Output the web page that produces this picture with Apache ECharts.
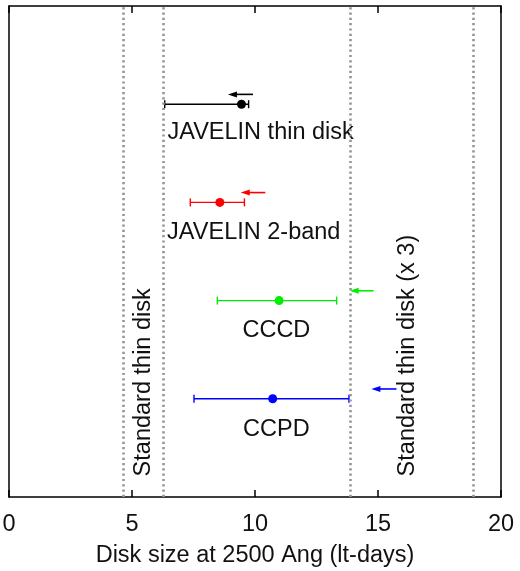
<!DOCTYPE html>
<html>
<head>
<meta charset="utf-8">
<script src="https://cdn.jsdelivr.net/npm/echarts@6/dist/echarts.min.js"></script>
<style>
  html, body { margin: 0; padding: 0; background: #fff; }
  #chart { width: 520px; height: 571px; }
</style>
</head>
<body>
<div id="chart"></div>
<script>
// --- data ---
const methods = ['JAVELIN thin disk', 'JAVELIN 2-band', 'CCCD', 'CCPD'];
const methodColors = ['#000000', '#ff0000', '#00ee00', '#0000ff'];
const rowY = [4, 3, 2, 1];
const sizeBest = [9.45, 8.57, 10.98, 10.72];
const sizeLow = [6.33, 7.37, 8.47, 7.52];
const sizeHigh = [9.74, 9.57, 13.32, 13.82];
const arrowFrom = [9.92, 10.42, 14.82, 15.75];
const arrowTo = [8.90, 9.42, 13.85, 14.73];
const labelX = [10.23, 9.95, 10.87, 10.87];
const labelY = [3.71, 2.69, 1.70, 0.69];
const thinDiskLines = [4.63, 6.29, 13.89, 18.87];
const thinDiskTexts = ['Standard thin disk', 'Standard thin disk (x 3)'];
const thinDiskTextX = [5.45, 16.22];
const thinDiskTextY = 0.21;

const FONT = 'Liberation Sans, Arial, sans-serif';
const FS = 23.5;

document.addEventListener('DOMContentLoaded', function () {
    const chart = echarts.init(document.getElementById('chart'));

    // error bars: [y, lo, hi, idx]
    const errData = rowY.map((y, i) => [y, sizeLow[i], sizeHigh[i], i]);
    const arrowData = rowY.map((y, i) => [y + 0.1, arrowFrom[i], arrowTo[i], i]);
    const pointData = rowY.map((y, i) => ({
        value: [sizeBest[i], y],
        itemStyle: { color: methodColors[i], opacity: 1 }
    }));
    const labelData = methods.map((m, i) => [labelX[i], labelY[i], i]);
    const vTextData = thinDiskTexts.map((t, i) => [thinDiskTextX[i], thinDiskTextY, i]);

    const frameLine = { show: true, onZero: false, lineStyle: { color: '#000', width: 1.5 } };

    chart.setOption({
        animation: false,
        backgroundColor: '#fff',
        grid: { left: 9, right: 19, top: 6, bottom: 74, outerBoundsMode: 'none' },
        xAxis: [{
            type: 'value',
            min: 0, max: 20, interval: 5,
            name: 'Disk size at 2500 Ang (lt-days)',
            nameLocation: 'middle',
            nameGap: 47,
            nameMoveOverlap: false,
            nameTextStyle: { fontFamily: FONT, fontSize: FS, color: '#111' },
            axisLine: frameLine,
            axisTick: { show: true, inside: true, length: 7, lineStyle: { color: '#000', width: 1.5 } },
            axisLabel: { fontFamily: FONT, fontSize: FS, color: '#111', margin: 16 },
            splitLine: { show: false }
        }, {
            type: 'value',
            position: 'top',
            min: 0, max: 20, interval: 5,
            axisLine: frameLine,
            axisTick: { show: true, inside: true, length: 7, lineStyle: { color: '#000', width: 1.5 } },
            axisLabel: { show: false },
            splitLine: { show: false }
        }],
        yAxis: [{
            type: 'value', min: 0, max: 5,
            axisLine: frameLine,
            axisTick: { show: false }, axisLabel: { show: false }, splitLine: { show: false }
        }, {
            type: 'value', min: 0, max: 5, position: 'right',
            axisLine: frameLine,
            axisTick: { show: false }, axisLabel: { show: false }, splitLine: { show: false }
        }],
        series: [
            // dotted reference lines
            {
                type: 'line',
                data: [],
                markLine: {
                    silent: true,
                    symbol: ['none', 'none'],
                    label: { show: false },
                    lineStyle: { color: '#959595', width: 2.6, type: [2.2, 3.1] },
                    data: thinDiskLines.map(v => ({ xAxis: v }))
                }
            },
            // error bars
            {
                type: 'custom',
                data: errData,
                renderItem: function (params, api) {
                    const y = api.value(0);
                    const p1 = api.coord([api.value(1), y]);
                    const p2 = api.coord([api.value(2), y]);
                    const c = methodColors[api.value(3)];
                    const st = { stroke: c, lineWidth: 1.4 };
                    return {
                        type: 'group',
                        children: [
                            { type: 'line', shape: { x1: p1[0], y1: p1[1], x2: p2[0], y2: p2[1] }, style: st },
                            { type: 'line', shape: { x1: p1[0], y1: p1[1] - 4, x2: p1[0], y2: p1[1] + 4 }, style: st },
                            { type: 'line', shape: { x1: p2[0], y1: p2[1] - 4, x2: p2[0], y2: p2[1] + 4 }, style: st }
                        ]
                    };
                }
            },
            // best estimates
            {
                type: 'scatter',
                symbol: 'circle',
                symbolSize: 9,
                itemStyle: { opacity: 1 },
                data: pointData
            },
            // arrows
            {
                type: 'custom',
                data: arrowData,
                renderItem: function (params, api) {
                    const y = api.value(0);
                    const a = api.coord([api.value(1), y]);
                    const b = api.coord([api.value(2), y]);
                    const c = methodColors[api.value(3)];
                    const dir = b[0] < a[0] ? 1 : -1;
                    return {
                        type: 'group',
                        children: [
                            { type: 'line', shape: { x1: a[0], y1: a[1], x2: b[0] + dir * 5, y2: b[1] }, style: { stroke: c, lineWidth: 1.6 } },
                            {
                                type: 'polygon',
                                shape: { points: [[b[0], b[1]], [b[0] + dir * 9, b[1] - 3], [b[0] + dir * 9, b[1] + 3]] },
                                style: { fill: c }
                            }
                        ]
                    };
                }
            },
            // method labels
            {
                type: 'custom',
                data: labelData,
                renderItem: function (params, api) {
                    const p = api.coord([api.value(0), api.value(1)]);
                    return {
                        type: 'text',
                        x: p[0], y: p[1],
                        style: {
                            text: methods[api.value(2)],
                            fontFamily: FONT, fontSize: FS, fill: '#111',
                            align: 'center', verticalAlign: 'middle'
                        }
                    };
                }
            },
            // vertical labels
            {
                type: 'custom',
                data: vTextData,
                renderItem: function (params, api) {
                    const p = api.coord([api.value(0), api.value(1)]);
                    return {
                        type: 'text',
                        x: p[0], y: p[1],
                        rotation: Math.PI / 2,
                        style: {
                            text: thinDiskTexts[api.value(2)],
                            fontFamily: FONT, fontSize: FS, fill: '#111',
                            align: 'left', verticalAlign: 'middle'
                        }
                    };
                }
            }
        ]
    });
});
</script>
</body>
</html>
